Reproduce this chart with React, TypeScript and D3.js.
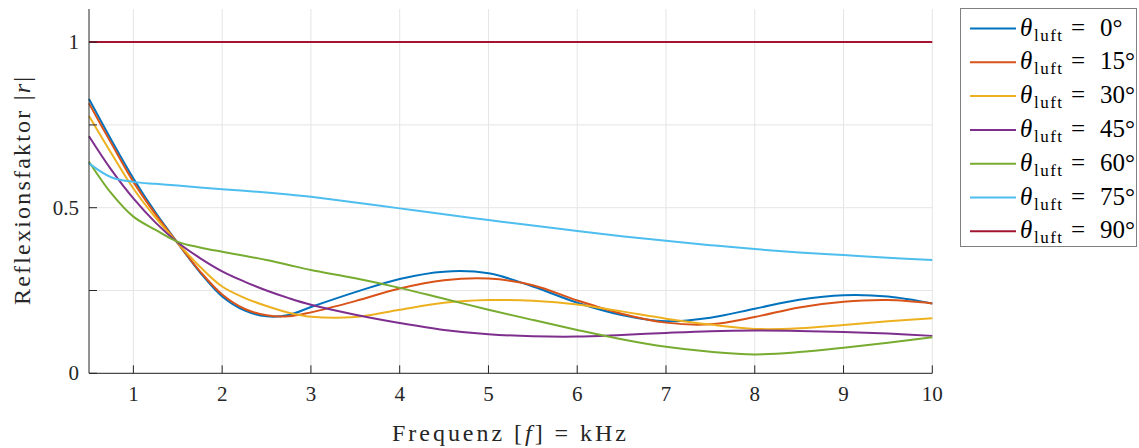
import React from "react";
import * as d3 from "d3";

const angles = [0, 15, 30, 45, 60, 75, 90];
const colors = ["#0072BD", "#D95319", "#EDB120", "#7E2F8E", "#77AC30", "#4DBEEE", "#A2142F"];

const xA = [0.5, 0.75, 1, 1.25, 1.5, 1.75, 2, 2.25, 2.5, 2.75, 3, 3.5, 4, 4.5, 5, 5.5, 6, 6.5, 7, 7.5, 8, 8.5, 9, 9.5, 10];
const r0 = [0.828, 0.705, 0.588, 0.485, 0.393, 0.305, 0.232, 0.19, 0.172, 0.176, 0.2, 0.245, 0.285, 0.307, 0.302, 0.262, 0.213, 0.176, 0.157, 0.168, 0.195, 0.222, 0.236, 0.232, 0.211];
const r15 = [0.815, 0.695, 0.578, 0.48, 0.393, 0.308, 0.238, 0.195, 0.175, 0.172, 0.184, 0.218, 0.256, 0.281, 0.286, 0.266, 0.22, 0.18, 0.153, 0.148, 0.17, 0.199, 0.216, 0.221, 0.211];
const r30 = [0.777, 0.665, 0.558, 0.47, 0.393, 0.322, 0.262, 0.228, 0.203, 0.183, 0.171, 0.17, 0.192, 0.213, 0.221, 0.219, 0.208, 0.187, 0.165, 0.147, 0.134, 0.136, 0.146, 0.157, 0.166];
const r45 = [0.716, 0.615, 0.528, 0.455, 0.395, 0.348, 0.308, 0.277, 0.25, 0.227, 0.207, 0.177, 0.152, 0.131, 0.118, 0.112, 0.111, 0.116, 0.122, 0.127, 0.129, 0.128, 0.125, 0.12, 0.113];
const r60 = [0.639, 0.544, 0.473, 0.433, 0.397, 0.38, 0.367, 0.355, 0.342, 0.327, 0.312, 0.287, 0.258, 0.225, 0.192, 0.161, 0.131, 0.103, 0.08, 0.065, 0.057, 0.064, 0.077, 0.092, 0.109];
const r75 = [0.634, 0.592, 0.578, 0.572, 0.567, 0.561, 0.556, 0.551, 0.546, 0.54, 0.533, 0.516, 0.498, 0.48, 0.463, 0.446, 0.43, 0.414, 0.4, 0.387, 0.375, 0.365, 0.357, 0.349, 0.342];
const r90 = xA.map(() => 1);
const series = [r0, r15, r30, r45, r60, r75, r90];

const xTicks = [1, 2, 3, 4, 5, 6, 7, 8, 9, 10];
const yTicks = [0, 0.25, 0.5, 0.75, 1];
const yLabels: Record<string, string> = { "0": "0", "0.5": "0.5", "1": "1" };

const FONT = "Liberation Serif, Times New Roman, DejaVu Serif, serif";

export default function App() {
  const x = d3.scaleLinear().domain([0.5, 10]).range([89, 932.3]);
  const y = d3.scaleLinear().domain([0, 1.1]).range([373.3, 9]);
  const line = d3
    .line<number>()
    .x((_, i) => x(xA[i]))
    .y((d) => y(d))
    .curve(d3.curveCatmullRom.alpha(0.5));

  const legX = 960.5;
  const legY = 8.5;
  const rowH = 33.8;
  const row0 = 28.5;
  const txt = { fontFamily: FONT };

  return (
    <svg
      width={1139}
      height={448}
      style={{ position: "absolute", left: 0, top: 0, background: "#fff", fontFamily: FONT }}
    >
      {xTicks.map((t) => (
        <line key={"gx" + t} x1={x(t)} x2={x(t)} y1={y(1.1)} y2={y(0)} stroke="#e5e5e5" strokeWidth={1} />
      ))}
      {yTicks.map((t) => (
        <line key={"gy" + t} x1={x(0.5)} x2={x(10)} y1={y(t)} y2={y(t)} stroke="#e5e5e5" strokeWidth={1} />
      ))}
      {series.map((s, i) => (
        <path key={"s" + i} d={line(s) || ""} fill="none" stroke={colors[i]} strokeWidth={2} />
      ))}
      <line x1={x(0.5)} x2={x(0.5)} y1={y(1.1)} y2={y(0)} stroke="#262626" strokeWidth={1} />
      <line x1={x(0.5)} x2={x(10)} y1={y(0)} y2={y(0)} stroke="#262626" strokeWidth={1} />
      {xTicks.map((t) => (
        <g key={"xt" + t}>
          <line x1={x(t)} x2={x(t)} y1={y(0)} y2={y(0) - 8} stroke="#262626" strokeWidth={1} />
          <text style={txt} x={x(t)} y={y(0) + 28} textAnchor="middle" fontSize={21} fill="#262626">
            {t}
          </text>
        </g>
      ))}
      {yTicks.map((t) => (
        <g key={"yt" + t}>
          <line x1={x(0.5)} x2={x(0.5) + 8} y1={y(t)} y2={y(t)} stroke="#262626" strokeWidth={1} />
          {yLabels[String(t)] !== undefined && (
            <text style={txt} x={79} y={y(t) + 7} textAnchor="end" fontSize={21} fill="#262626">
              {yLabels[String(t)]}
            </text>
          )}
        </g>
      ))}
      <text
        style={txt}
        x={392}
        y={441}
        textLength={234}
        lengthAdjust="spacing"
        fontSize={24}
        fill="#262626"
      >
        Frequenz [<tspan fontStyle="italic">f</tspan>] = kHz
      </text>
      <text
        style={txt}
        transform={`translate(30,305) rotate(-90)`}
        x={0}
        y={0}
        textLength={228}
        lengthAdjust="spacing"
        fontSize={24}
        fill="#262626"
      >
        Reflexionsfaktor |<tspan fontStyle="italic">r</tspan>|
      </text>
      <rect x={legX} y={legY} width={176} height={238} fill="#fff" stroke="#808080" strokeWidth={1} />
      {angles.map((a, i) => {
        const cy = row0 + i * rowH;
        return (
          <g key={"lg" + i}>
            <line x1={970} x2={1016} y1={cy} y2={cy} stroke={colors[i]} strokeWidth={2} />
            <text style={txt} x={1020} y={cy + 7} fontSize={25} fontStyle="italic" fill="#000">
              θ
            </text>
            <text style={txt} x={1034} y={cy + 12} fontSize={17} fill="#000" textLength={28} lengthAdjust="spacing">
              luft
            </text>
            <text style={txt} x={1071} y={cy + 7} fontSize={25} fill="#000">
              =
            </text>
            <text style={txt} x={1100} y={cy + 7} fontSize={25} fill="#000">
              {a + "°"}
            </text>
          </g>
        );
      })}
    </svg>
  );
}
